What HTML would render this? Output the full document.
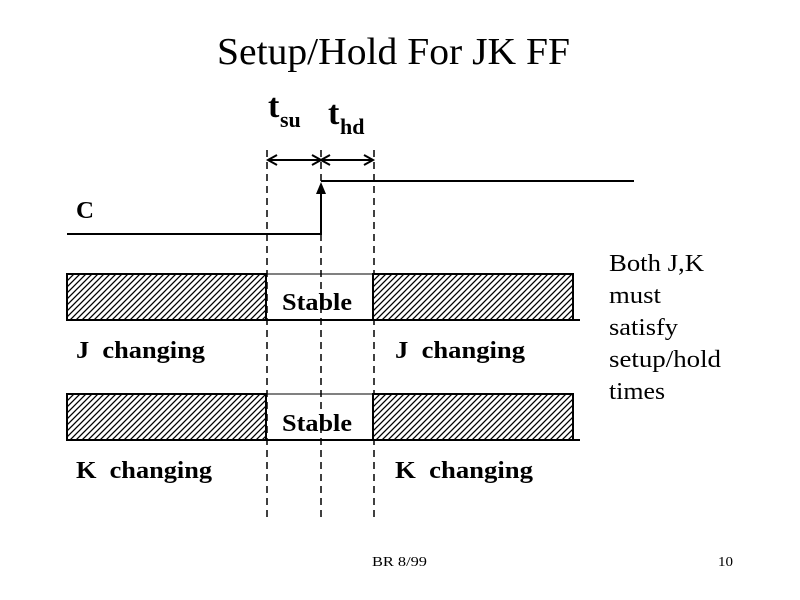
<!DOCTYPE html>
<html><head><style>
html,body{margin:0;padding:0;background:#fff;}
svg{display:block;}
</style></head><body>
<svg width="800" height="600" xmlns="http://www.w3.org/2000/svg">
<defs>
<pattern id="h" patternUnits="userSpaceOnUse" width="6" height="6">
<rect width="6" height="6" fill="#fff"/>
<path d="M-1,7 L7,-1 M-4,4 L4,-4 M2,10 L10,2" stroke="#000" stroke-width="1.3"/>
</pattern>
</defs>
<text x="217" y="64" font-family="Liberation Serif, serif" font-size="38" textLength="353" lengthAdjust="spacingAndGlyphs">Setup/Hold For JK FF</text>
<g font-family="Liberation Serif, serif" font-weight="bold">
<text x="268" y="117" font-size="34">t</text><text x="280" y="127" font-size="22">su</text>
<text x="328" y="124" font-size="34">t</text><text x="340" y="134" font-size="22">hd</text>
</g>
<g stroke="#000" stroke-width="1.5" stroke-dasharray="7,5">
<line x1="267" y1="150" x2="267" y2="520"/>
<line x1="321" y1="150" x2="321" y2="520"/>
<line x1="374" y1="150" x2="374" y2="520"/>
</g>
<g stroke="#000" stroke-width="2" fill="none">
<line x1="268" y1="160" x2="373" y2="160"/>
<path d="M277,155 L268,160 L277,165 M312,155 L321,160 L312,165 M330,155 L321,160 L330,165 M364,155 L373,160 L364,165"/>
<path d="M67,234 L321,234 L321,188"/>
<line x1="321" y1="181" x2="634" y2="181"/>
</g>
<polygon points="316,194 321,182 326,194" fill="#000"/>
<g font-family="Liberation Serif, serif" font-weight="bold" font-size="24">
<text x="76" y="218" textLength="18" lengthAdjust="spacingAndGlyphs">C</text>
<text x="76" y="358" textLength="129" lengthAdjust="spacingAndGlyphs">J&#160;&#160;changing</text>
<text x="395" y="358" textLength="130" lengthAdjust="spacingAndGlyphs">J&#160;&#160;changing</text>
<text x="76" y="478" textLength="136" lengthAdjust="spacingAndGlyphs">K&#160;&#160;changing</text>
<text x="395" y="478" textLength="138" lengthAdjust="spacingAndGlyphs">K&#160;&#160;changing</text>
<text x="282" y="310" textLength="70" lengthAdjust="spacingAndGlyphs">Stable</text>
<text x="282" y="431" textLength="70" lengthAdjust="spacingAndGlyphs">Stable</text>
</g>
<g stroke="#000">
<rect x="67" y="274" width="199" height="46" fill="url(#h)" stroke-width="2"/>
<rect x="266" y="274" width="107" height="46" fill="none" stroke-width="1"/>
<rect x="373" y="274" width="200" height="46" fill="url(#h)" stroke-width="2"/>
<line x1="67" y1="320" x2="580" y2="320" stroke-width="2"/>
<rect x="67" y="394" width="199" height="46" fill="url(#h)" stroke-width="2"/>
<rect x="266" y="394" width="107" height="46" fill="none" stroke-width="1"/>
<rect x="373" y="394" width="200" height="46" fill="url(#h)" stroke-width="2"/>
<line x1="67" y1="440" x2="580" y2="440" stroke-width="2"/>
</g>
<g font-family="Liberation Serif, serif" font-size="24">
<text x="609" y="271" textLength="95" lengthAdjust="spacingAndGlyphs">Both J,K</text>
<text x="609" y="303" textLength="52" lengthAdjust="spacingAndGlyphs">must</text>
<text x="609" y="335" textLength="69" lengthAdjust="spacingAndGlyphs">satisfy</text>
<text x="609" y="367" textLength="112" lengthAdjust="spacingAndGlyphs">setup/hold</text>
<text x="609" y="399" textLength="56" lengthAdjust="spacingAndGlyphs">times</text>
</g>
<g font-family="Liberation Serif, serif" font-size="14">
<text x="372" y="566" textLength="55" lengthAdjust="spacingAndGlyphs">BR 8/99</text>
<text x="718" y="566" textLength="15" lengthAdjust="spacingAndGlyphs">10</text>
</g>
</svg>
</body></html>
